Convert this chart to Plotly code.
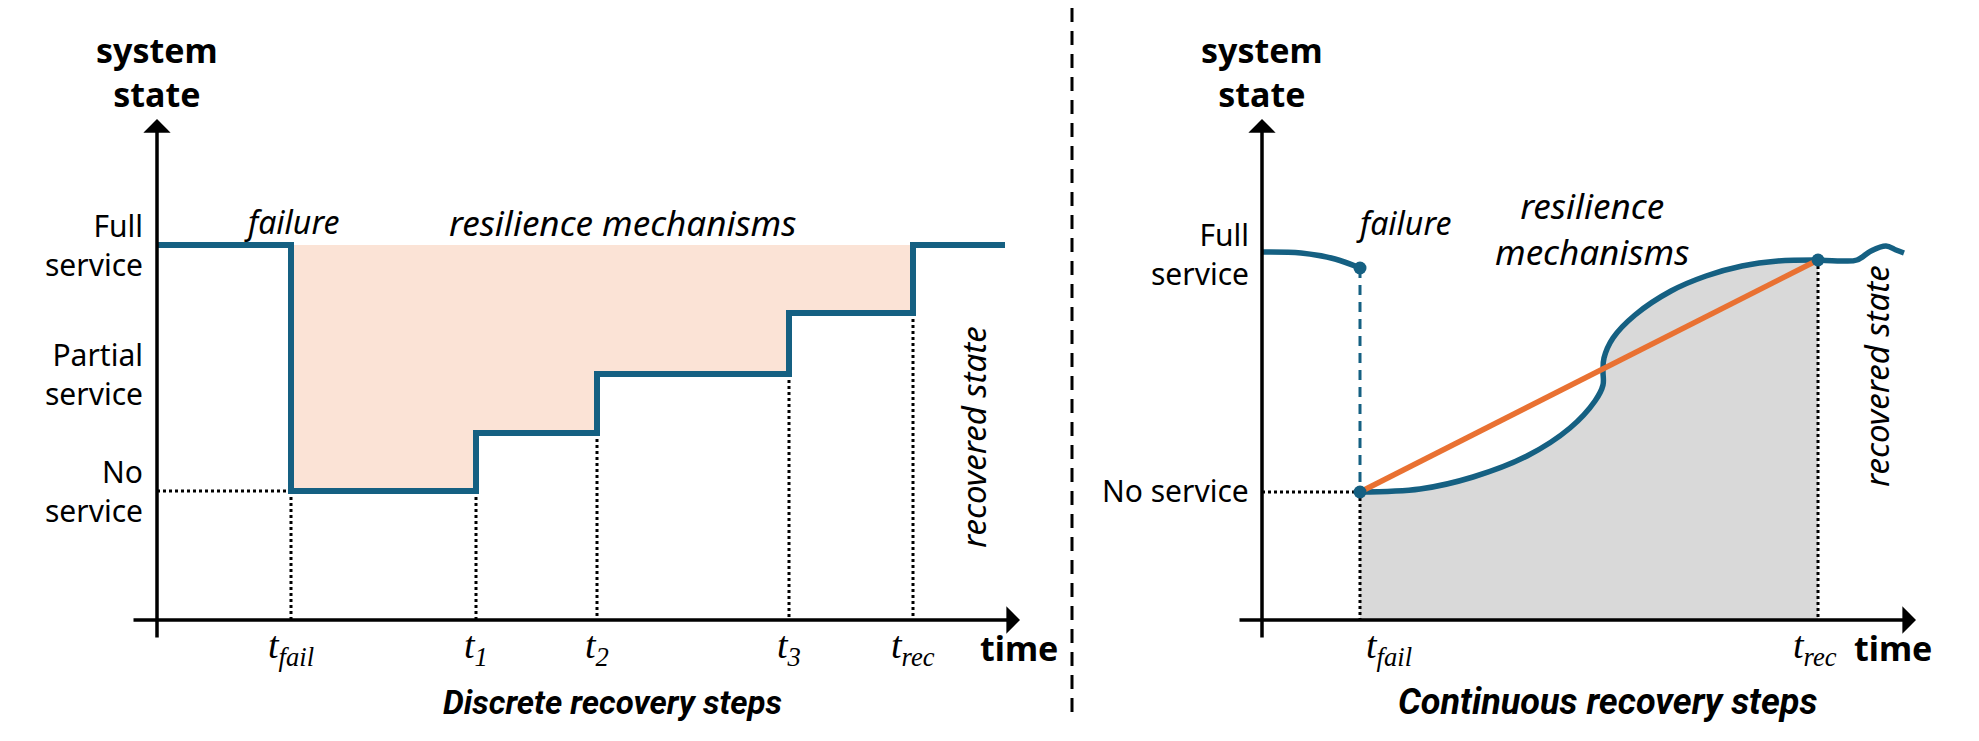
import plotly.graph_objects as go

# ---------- data (time units / state units, 1 unit ~ 100 px) ----------
# left panel : discrete recovery
step_times = [0, 1.34, 3.19, 4.40, 6.32, 7.56, 8.48]
step_states = [3.75, 1.29, 1.87, 2.46, 3.07, 3.75, 3.75]
step_tick_names = ["fail", "1", "2", "3", "rec"]
left_levels = [3.75, 2.46, 1.29]
left_level_names = ["Full<br>service", "Partial<br>service", "No<br>service"]

# right panel : continuous recovery
pre_t = [0, 0.39, 0.73, 0.98]
pre_s = [3.68, 3.67, 3.61, 3.52]
rec_t = [0.98, 1.58, 2.11, 2.65, 3.08, 3.33, 3.41, 3.41, 3.42, 3.51, 3.73, 4.09, 4.44, 4.80, 5.16, 5.56]
rec_s = [1.28, 1.31, 1.43, 1.64, 1.92, 2.19, 2.35, 2.49, 2.62, 2.82, 3.05, 3.29, 3.44, 3.54, 3.59, 3.60]
post_t = [5.56, 5.81, 5.95, 6.09, 6.24, 6.34, 6.42]
post_s = [3.60, 3.59, 3.60, 3.69, 3.74, 3.70, 3.67]
right_levels = [3.66, 1.30]
right_level_names = ["Full<br>service", "No service"]

BLUE = "#156082"
ORANGE = "#E97132"
PEACH = "#FBE3D6"
GRAY = "#D9D9D9"
SANS = "Noto Sans"
SERIF = "Liberation Serif"

fig = go.Figure()

# ---------- left panel ----------
t_fail, t_rec = step_times[1], step_times[5]
none_l, full_l = step_states[1], step_states[0]

# peach area between full service and the steps
fig.add_trace(go.Scatter(
    x=step_times[1:6] + [t_fail], y=step_states[1:6] + [full_l],
    mode="lines", line=dict(width=0, shape="hv"), fill="toself", fillcolor=PEACH,
    hoverinfo="skip", xaxis="x", yaxis="y"))

# dotted guides
dx, dy = [0, t_fail, None], [none_l, none_l, None]
for i in range(1, 6):
    dx += [step_times[i], step_times[i], None]
    dy += [min(step_states[i - 1], step_states[i]), 0, None]
fig.add_trace(go.Scatter(x=dx, y=dy, mode="lines", line=dict(color="black", width=3, dash="dot"),
                         hoverinfo="skip", xaxis="x", yaxis="y"))

# step curve
fig.add_trace(go.Scatter(x=step_times, y=step_states, mode="lines",
                         line=dict(color=BLUE, width=6, shape="hv"), xaxis="x", yaxis="y"))

# ---------- right panel ----------
r_fail, r_rec = rec_t[0], rec_t[-1]

# gray area under the recovery curve
fig.add_trace(go.Scatter(x=rec_t, y=rec_s, mode="lines", line=dict(width=0, shape="spline"),
                         fill="tozeroy", fillcolor=GRAY, hoverinfo="skip", xaxis="x2", yaxis="y2"))

fig.add_trace(go.Scatter(
    x=[0, r_fail, None, r_fail, r_fail, None, r_rec, r_rec],
    y=[rec_s[0], rec_s[0], None, rec_s[0], 0, None, rec_s[-1], 0],
    mode="lines", line=dict(color="black", width=3, dash="dot"),
    hoverinfo="skip", xaxis="x2", yaxis="y2"))

fig.add_trace(go.Scatter(x=[r_fail, r_fail], y=[pre_s[-1], rec_s[0]], mode="lines",
                         line=dict(color=BLUE, width=3, dash="10px,7px"), xaxis="x2", yaxis="y2"))

for tt, ss in [(pre_t, pre_s), (rec_t, rec_s), (post_t, post_s)]:
    fig.add_trace(go.Scatter(x=tt, y=ss, mode="lines", line=dict(color=BLUE, width=5.5, shape="spline"),
                             xaxis="x2", yaxis="y2"))

fig.add_trace(go.Scatter(x=[r_fail, r_rec], y=[rec_s[0], rec_s[-1]], mode="lines",
                         line=dict(color=ORANGE, width=5.5), xaxis="x2", yaxis="y2"))

fig.add_trace(go.Scatter(x=[r_fail, r_fail, r_rec], y=[pre_s[-1], rec_s[0], rec_s[-1]], mode="markers",
                         marker=dict(color=BLUE, size=13), xaxis="x2", yaxis="y2"))

# ---------- annotations ----------
ann = []


def arrow(xr, x0, y0, x1, y1):
    ann.append(dict(xref=xr, yref="y", axref=xr, ayref="y", x=x1, y=y1, ax=x0, ay=y0, text="",
                    showarrow=True, arrowhead=1, arrowsize=1.3, arrowwidth=3.5, arrowcolor="black"))


def label(xr, x, y, text, size=30, xanchor="center", align="center", family=SANS, angle=0):
    ann.append(dict(xref=xr, yref="y", x=x, y=y, text=text, showarrow=False, xanchor=xanchor,
                    yanchor="middle", align=align, textangle=angle,
                    font=dict(family=family, size=size, color="black")))


# axes
arrow("x", -0.25, 0, 8.63, 0)
arrow("x", 0, -0.19, 0, 5.01)
arrow("x2", -0.24, 0, 6.54, 0)
arrow("x2", 0, -0.19, 0, 5.01)

for xr in ["x", "x2"]:
    label(xr, 0, 5.48, "<b>system<br>state</b>", size=34)

for lv, nm in zip(left_levels, left_level_names):
    label("x", -0.12, lv, nm, xanchor="right", align="right")
for lv, nm in zip(right_levels, right_level_names):
    label("x2", -0.11, lv, nm, xanchor="right", align="right")

label("x", 1.34, 3.99, "<i>failure</i>", size=32)
label("x", 4.65, 3.98, "<i>resilience mechanisms</i>", size=35)
label("x", 8.16, 1.83, "<i>recovered state</i>", size=33, angle=-90)
for t, nm in zip(step_times[1:6], step_tick_names):
    label("x", t, -0.28, "<i>t</i><sub><i>%s</i></sub>" % nm, size=38, family=SERIF)
label("x", 8.62, -0.28, "<b>time</b>", size=34)
label("x", 4.55, -0.82, "<b><i>Discrete recovery steps</i></b>", size=33, family="Roboto")

label("x2", 1.41, 3.98, "<i>failure</i>", size=32)
label("x2", 3.30, 3.92, "<i>resilience<br>mechanisms</i>", size=35)
label("x2", 6.14, 2.44, "<i>recovered state</i>", size=33, angle=-90)
label("x2", 1.27, -0.28, "<i>t</i><sub><i>fail</i></sub>", size=38, family=SERIF)
label("x2", 5.53, -0.28, "<i>t</i><sub><i>rec</i></sub>", size=38, family=SERIF)
label("x2", 6.31, -0.28, "<b>time</b>", size=34)
label("x2", 3.45, -0.82, "<b><i>Continuous recovery steps</i></b>", size=36, family="Roboto")

split = 1060 / 1979
fig.update_layout(
    width=1979, height=741,
    margin=dict(l=0, r=0, t=0, b=0),
    paper_bgcolor="white", plot_bgcolor="white",
    showlegend=False,
    xaxis=dict(domain=[0, split], range=[-1.49, 9.11], visible=False),
    yaxis=dict(range=[-1.29, 6.12], visible=False),
    xaxis2=dict(domain=[split, 1], range=[-1.94, 7.25], visible=False),
    yaxis2=dict(range=[-1.29, 6.12], visible=False, anchor="x2"),
    annotations=ann,
    shapes=[dict(type="line", xref="paper", yref="paper", x0=1064 / 1979, x1=1064 / 1979,
                 y0=1, y1=34 / 741, line=dict(color="black", width=3, dash="14px,9px"))],
)

fig.write_html("out.html")
